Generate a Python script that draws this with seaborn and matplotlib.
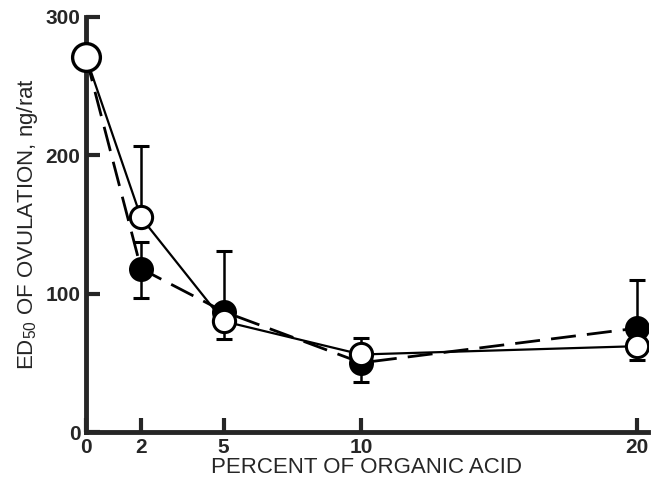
import numpy as np
import matplotlib
matplotlib.use('Agg')
import matplotlib.pyplot as plt
import pandas as pd
import seaborn as sns

# Data
pct = [0, 2, 5, 10, 20]
open_y = [271, 155, 80, 56, 62]
open_err_lo = [0, 0, 0, 0, 10]
open_err_hi = [0, 52, 0, 12, 0]
filled_y = [271, 118, 87, 50, 75]
filled_err_lo = [0, 21, 20, 14, 0]
filled_err_hi = [0, 19, 44, 0, 35]

sns.set_style('ticks')
plt.rcParams['font.family'] = ['Liberation Sans', 'DejaVu Sans']
plt.rcParams['mathtext.fontset'] = 'custom'
plt.rcParams['mathtext.rm'] = 'Liberation Sans'

df = pd.DataFrame({'pct': pct * 2,
                   'ed50': open_y + filled_y,
                   'grp': ['open'] * 5 + ['filled'] * 5})

fig = plt.figure(figsize=(6.61, 4.80), dpi=100)
ax = fig.add_axes([0.130, 0.100, 0.850, 0.865])

# error bars (one-sided)
ax.errorbar(pct, filled_y, yerr=[filled_err_lo, filled_err_hi], fmt='none',
            ecolor='black', elinewidth=1.8, capsize=6, capthick=2.2, zorder=2)
ax.errorbar(pct, open_y, yerr=[open_err_lo, open_err_hi], fmt='none',
            ecolor='black', elinewidth=1.8, capsize=6, capthick=2.2, zorder=2)

# lines
sns.lineplot(data=df[df.grp == 'filled'], x='pct', y='ed50', color='black',
             linewidth=2.0, ax=ax, zorder=3)
ax.lines[-1].set_dashes([9, 4])
sns.lineplot(data=df[df.grp == 'open'], x='pct', y='ed50', color='black',
             linewidth=1.6, ax=ax, zorder=3)

# markers
ax.plot(pct[1:], filled_y[1:], 'o', ms=16, mfc='black', mec='black', mew=2, zorder=4)
ax.plot(pct[1:], open_y[1:], 'o', ms=16, mfc='white', mec='black', mew=2.2, zorder=5)
ax.plot(pct[:1], open_y[:1], 'o', ms=20, mfc='white', mec='black', mew=2.4,
        zorder=6, clip_on=False)

ax.set_xlim(0, 20.4)
ax.set_ylim(0, 300)
ax.set_xticks(pct)
ax.set_yticks([0, 100, 200, 300])
ax.tick_params(direction='in', length=10, width=3, labelsize=15, pad=4)
for lab in ax.get_xticklabels() + ax.get_yticklabels():
    lab.set_fontweight('bold')
sns.despine(ax=ax)
ax.spines['left'].set_linewidth(3.5)
ax.spines['bottom'].set_linewidth(3.5)
ax.spines['left'].set_bounds(0, 300)

ax.set_xlabel('PERCENT OF ORGANIC ACID', fontsize=16, labelpad=0)
ax.set_ylabel(r'ED$_{50}$ OF OVULATION, ng/rat', fontsize=16, labelpad=4)

fig.savefig('out.png', dpi=100)
